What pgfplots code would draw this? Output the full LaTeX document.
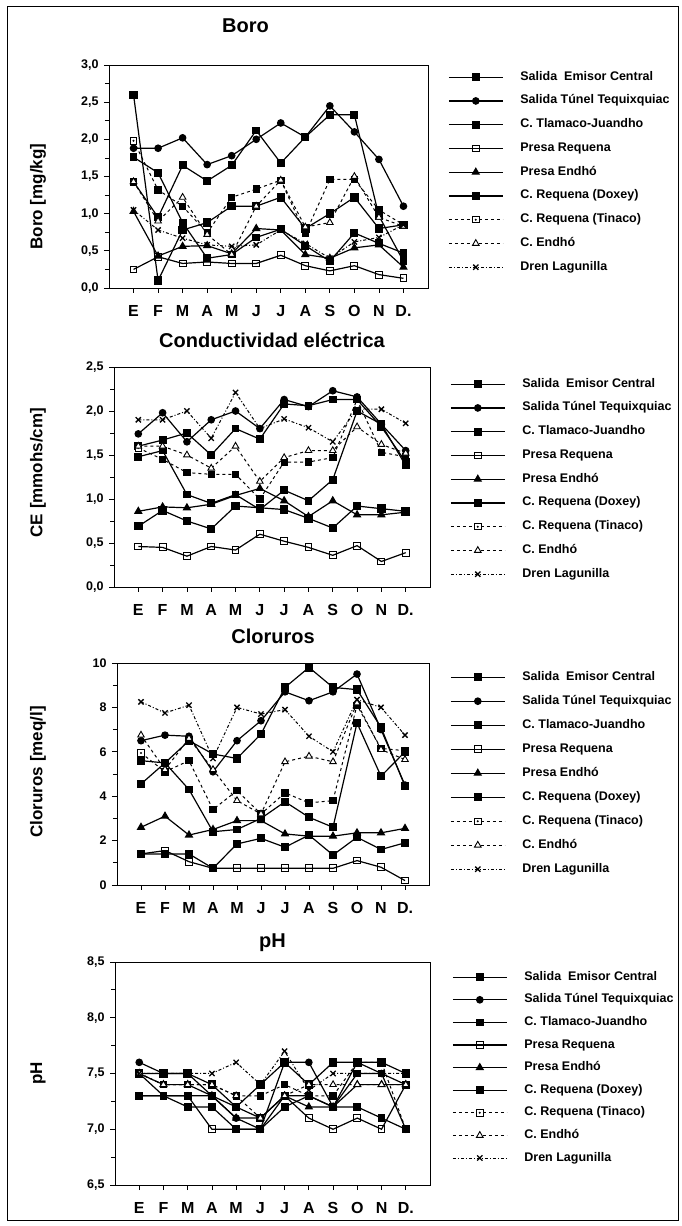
\documentclass[border=0pt]{standalone}
\usepackage{pgfplots}
\pgfplotsset{compat=1.18}
\usepackage{pgfplotstable}
\usepackage{fontspec}
\setmainfont{Liberation Sans}

\pgfdeclareplotmark{sqdot}{%
  \pgfpathrectangle{\pgfpoint{-\pgfplotmarksize}{-\pgfplotmarksize}}{\pgfpoint{2\pgfplotmarksize}{2\pgfplotmarksize}}%
  \pgfusepathqfillstroke
  \pgfsetfillcolor{black}%
  \pgfpathcircle{\pgfpointorigin}{0.35\pgfplotmarksize}%
  \pgfusepathqfill}

\pgfplotstableread{
x a b c d e f g h i
0  2.60 1.88 1.76 0.25 1.03 1.43 1.98 1.43 1.05
1  0.10 1.88 1.55 0.42 0.43 0.95 1.32 0.90 0.78
2  0.78 2.02 0.88 0.33 0.56 1.65 1.10 1.22 0.67
3  0.88 1.66 0.40 0.35 0.57 1.44 0.74 0.72 0.58
4  1.10 1.78 0.45 0.33 0.46 1.65 1.22 0.45 0.56
5  1.10 2.00 0.68 0.33 0.80 2.12 1.33 1.10 0.58
6  1.22 2.22 0.79 0.44 0.78 1.68 1.45 1.45 0.78
7  0.80 2.03 0.57 0.30 0.45 2.03 0.73 0.82 0.60
8  1.00 2.45 0.36 0.23 0.40 2.33 1.46 0.88 0.40
9  1.22 2.10 0.74 0.30 0.54 2.33 1.46 1.50 0.62
10 0.80 1.73 0.60 0.18 0.58 0.97 1.05 0.95 0.68
11 0.85 1.10 0.47 0.13 0.28 0.36 0.85 0.83 0.85
}\boro

\pgfplotstableread{
x a b c d e f g h i
0  0.69 1.74 1.60 0.46 0.86 1.48 1.58 1.60 1.90
1  0.87 1.98 1.67 0.45 0.91 1.55 1.45 1.60 1.90
2  0.75 1.65 1.75 0.35 0.90 1.05 1.30 1.50 2.00
3  0.66 1.90 1.50 0.46 0.94 0.95 1.28 1.35 1.69
4  0.92 2.00 1.80 0.42 1.04 1.05 1.28 1.60 2.21
5  0.90 1.80 1.68 0.60 1.12 0.88 1.00 1.20 1.80
6  0.88 2.13 2.08 0.52 0.98 1.10 1.42 1.47 1.91
7  0.78 2.05 2.06 0.45 0.80 0.98 1.42 1.55 1.81
8  0.67 2.23 2.13 0.36 0.98 1.22 1.47 1.55 1.65
9  0.92 2.16 2.13 0.47 0.82 2.00 2.13 1.82 2.02
10 0.89 1.85 1.82 0.29 0.82 1.85 1.53 1.62 2.02
11 0.86 1.55 1.42 0.39 0.85 1.38 1.48 1.52 1.86
}\ce

\pgfplotstableread{
x a b c d e f g h i
0  4.55 6.50 1.40 1.40 2.60 5.60 5.95 6.75 8.25
1  5.50 6.75 1.40 1.55 3.10 5.50 5.10 5.20 7.75
2  6.50 6.70 1.40 1.05 2.25 4.30 5.60 6.60 8.10
3  5.90 5.10 0.75 0.75 2.50 2.40 3.40 5.20 5.70
4  5.70 6.50 1.85 0.75 2.90 2.50 4.25 3.80 8.00
5  6.80 7.40 2.10 0.75 2.90 3.00 3.20 3.20 7.70
6  8.90 8.70 1.70 0.75 2.30 3.75 4.15 5.55 7.90
7  9.80 8.30 2.25 0.75 2.20 3.05 3.70 5.80 6.70
8  8.90 8.70 1.35 0.75 2.20 2.60 3.80 5.55 6.00
9  8.80 9.50 2.15 1.10 2.35 7.30 8.10 8.20 8.35
10 7.10 7.00 1.60 0.80 2.35 4.90 6.15 6.10 8.00
11 4.45 4.50 1.90 0.20 2.55 6.00 6.05 5.65 6.75
}\clor

\pgfplotstableread{
x a b c d e f g h i
0  7.5 7.6 7.3 7.5 7.5 7.3 7.5 7.5 7.5
1  7.5 7.5 7.3 7.3 7.4 7.3 7.4 7.4 7.5
2  7.5 7.5 7.3 7.3 7.4 7.2 7.4 7.4 7.5
3  7.4 7.3 7.3 7.0 7.3 7.2 7.4 7.4 7.5
4  7.2 7.1 7.2 7.0 7.1 7.0 7.3 7.3 7.6
5  7.4 7.0 7.1 7.0 7.1 7.0 7.3 7.1 7.4
6  7.6 7.6 7.3 7.3 7.3 7.2 7.4 7.3 7.7
7  7.4 7.6 7.3 7.1 7.2 7.3 7.3 7.4 7.35
8  7.6 7.2 7.2 7.0 7.2 7.2 7.3 7.4 7.5
9  7.6 7.6 7.5 7.1 7.4 7.2 7.6 7.4 7.5
10 7.6 7.5 7.5 7.0 7.4 7.1 7.6 7.4 7.5
11 7.5 7.0 7.4 7.4 7.4 7.0 7.0 7.4 7.5
}\ph

\pgfplotsset{
  panel/.style={
    scale only axis,
    xmin=-1, xmax=12,
    xtick={0,...,11},
    xticklabels={E,F,M,A,M,J,J,A,S,O,N,D.},
    xtick pos=left, ytick pos=left,
    tick align=outside,
    major tick length=5pt, minor tick length=4pt,
    minor y tick num=1,
    every tick/.style={black, line width=0.8pt},
    axis line style={line width=0.9pt},
    xticklabel style={font=\fontsize{16}{16}\selectfont\bfseries, text height=12pt, text depth=0pt, yshift=-8pt},
    yticklabel style={font=\fontsize{12.5}{13}\selectfont\bfseries, xshift=-2pt,
      /pgf/number format/.cd, use comma, fixed, fixed zerofill, precision=1, assume math mode=true},
    ylabel style={font=\fontsize{17}{17}\selectfont\bfseries, anchor=center},
    title style={font=\fontsize{20}{20}\selectfont\bfseries, at={(axis description cs:0.5,1)}, anchor=base, yshift=13pt},
    legend cell align=left,
    legend image code/.code={\draw[mark repeat=2,mark phase=2,#1] plot coordinates {(0pt,0pt) (27pt,0pt) (54pt,0pt)};},
    legend style={draw=none, fill=none, at={(axis description cs:1,1)}, anchor=north west,
      inner sep=0pt, font=\fontsize{12.5}{13}\selectfont\bfseries,
      nodes={inner sep=0pt, text height=9pt, text depth=3pt},
      /tikz/every odd column/.append style={column sep=17pt}},
    cycle list={
      {black, line width=1.2pt, mark=square*, mark size=3.6pt, mark options={solid}},
      {black, line width=1.2pt, mark=*, mark size=3.2pt, mark options={solid}},
      {black, line width=1.2pt, mark=square*, mark size=3.3pt, mark options={solid}},
      {black, line width=1.2pt, mark=square, mark size=3.4pt, mark options={solid, fill=white, line width=1pt}},
      {black, line width=1.2pt, mark=triangle*, mark size=3.8pt, mark options={solid}},
      {black, line width=1.2pt, mark=square*, mark size=3.3pt, mark options={solid}},
      {black, line width=1pt, dashed, mark=sqdot, mark size=3.2pt, mark options={solid, fill=white, line width=0.9pt}},
      {black, line width=1pt, dashed, mark=triangle*, mark size=3.8pt, mark options={solid, fill=white, line width=0.9pt}},
      {black, line width=1pt, dash dot, mark=x, mark size=3.7pt, mark options={solid, line width=1.3pt}},
    },
  },
}

\newcommand{\series}[1]{%
  \addplot table[x=x,y=a]{#1};
  \addplot table[x=x,y=b]{#1};
  \addplot table[x=x,y=c]{#1};
  \addplot table[x=x,y=d]{#1};
  \addplot table[x=x,y=e]{#1};
  \addplot table[x=x,y=f]{#1};
  \addplot table[x=x,y=g]{#1};
  \addplot table[x=x,y=h]{#1};
  \addplot table[x=x,y=i]{#1};
  \legend{Salida\ \ Emisor Central, Salida Túnel Tequixquiac, C. Tlamaco-Juandho, Presa Requena, Presa Endhó, C. Requena (Doxey), C. Requena (Tinaco), C. Endhó, Dren Lagunilla}
}

\begin{document}
\begin{tikzpicture}
\path (0pt,0pt) rectangle (682pt,1226pt);
\draw[line width=1pt] (7pt,5pt) rectangle (678pt,1219pt);

\begin{axis}[panel, at={(109pt,938pt)}, anchor=south west, width=319pt, height=223pt,
  ymin=0, ymax=3, ytick={0,0.5,...,3},
  title={Boro}, title style={yshift=13pt, xshift=-23pt},
  ylabel={Boro [mg/kg]}, ylabel style={at={(axis description cs:-0.2226,0.41)}},
  legend style={xshift=20pt, yshift=-6pt, row sep=11.75pt}]
\series{\boro}
\end{axis}

\begin{axis}[panel, at={(114pt,639pt)}, anchor=south west, width=316pt, height=220pt,
  ymin=0, ymax=2.5, ytick={0,0.5,...,2.5},
  title={Conductividad eléctrica},
  ylabel={CE [mmohs/cm]}, ylabel style={at={(axis description cs:-0.2405,0.52)}},
  legend style={xshift=20pt, yshift=-11pt, row sep=11.75pt}]
\series{\ce}
\end{axis}

\begin{axis}[panel, at={(117pt,341pt)}, anchor=south west, width=312pt, height=222pt,
  ymin=0, ymax=10, ytick={0,2,...,10},
  yticklabel style={/pgf/number format/.cd, fixed, precision=0, fixed zerofill=false},
  title={Cloruros},
  ylabel={Cloruros [meq/l]}, ylabel style={at={(axis description cs:-0.2532,0.51)}},
  legend style={xshift=21pt, yshift=-8pt, row sep=12pt}]
\series{\clor}
\end{axis}

\begin{axis}[panel, at={(115pt,41pt)}, anchor=south west, width=315pt, height=223pt,
  ymin=6.5, ymax=8.5, ytick={6.5,7,...,8.5},
  title={pH}, title style={yshift=-5pt},
  ylabel={pH}, ylabel style={at={(axis description cs:-0.2444,0.5)}},
  legend style={xshift=22pt, yshift=-9pt, row sep=10.6pt}]
\series{\ph}
\end{axis}
\end{tikzpicture}
\end{document}
